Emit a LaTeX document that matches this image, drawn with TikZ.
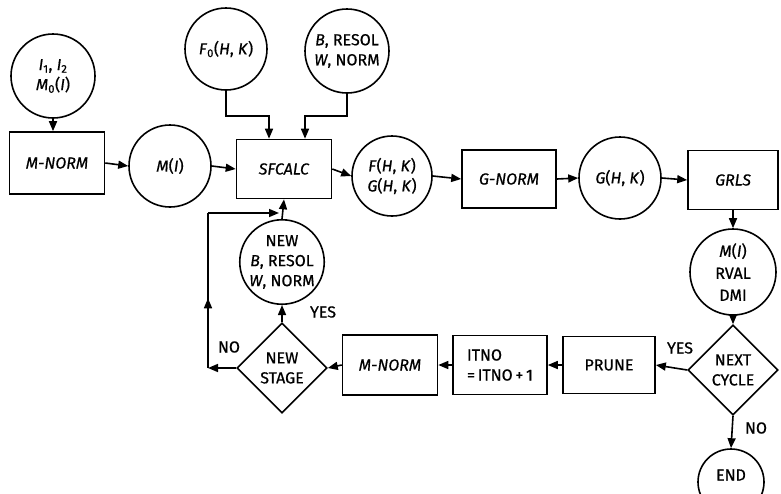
\documentclass[tikz,border=0pt]{standalone}
\usepackage{fontspec}
\setmainfont{Fira Sans}[FakeBold=0.6]
\usetikzlibrary{arrows.meta,shapes.geometric,decorations.markings}
\tikzset{
  base/.style={draw, line width=1.6pt, inner sep=0pt, align=center, font=\fontsize{16}{20}\selectfont},
  cir/.style={base, circle},
  box/.style={base, rectangle},
  dia/.style={base, diamond, minimum width=90pt, minimum height=90pt},
  arr/.style={line width=1.6pt, -{Triangle[length=10pt,width=8pt]}},
  midarr/.style={line width=1.6pt, postaction={decorate}, decoration={markings, mark=at position #1 with {\arrow{Triangle[length=10pt,width=8pt]}}}},
  lbl/.style={font=\fontsize{16}{18}\selectfont, inner sep=0pt}
}
\begin{document}
\begin{tikzpicture}[x=1pt,y=-1pt]
\clip (0,0) rectangle (781,493);
\fill[white] (0,0) rectangle (781,493);
% top row
\node[cir, minimum size=84pt] (i12) at (53,76) {\textit{I}\textsubscript{1}, \textit{I}\textsubscript{2}\\\textit{M}\textsubscript{0}(\textit{I})};
\node[box, minimum width=95pt, minimum height=62pt] (mn1) at (57,163) {\textit{M-NORM}};
\node[cir, minimum size=82pt] (mi) at (170,166) {\textit{M}(\textit{I})};
\node[box, minimum width=95pt, minimum height=59pt] (sf) at (284,169) {\textit{SFCALC}};
\node[cir, minimum size=82pt] (f0) at (226,49) {\textit{F}\textsubscript{0}(\textit{H}, \textit{K})};
\node[cir, minimum size=84pt] (br) at (347,51) {\textit{B}, RESOL\\\textit{W}, NORM};
\node[cir, minimum size=80pt] (fg) at (392,176) {\textit{F}(\textit{H}, \textit{K})\\\textit{G}(\textit{H}, \textit{K})};
\node[box, minimum width=94pt, minimum height=58pt] (gn) at (509,179) {\textit{G-NORM}};
\node[cir, minimum size=82pt] (g) at (620,178) {\textit{G}(\textit{H}, \textit{K})};
\node[box, minimum width=90pt, minimum height=59pt] (grls) at (733,180) {\textit{GRLS}};
% right column
\node[cir, minimum size=86pt, font=\fontsize{16}{22}\selectfont] (mrv) at (733,272) {\textit{M}(\textit{I})\\RVAL\\DMI};
\node[dia] (nc) at (733,370) {NEXT\\CYCLE};
\node[cir, minimum size=66pt] (endc) at (731,482) {\raisebox{14pt}{END}};
% bottom row
\node[box, minimum width=94pt, minimum height=59pt, align=left] (it) at (500,365) {ITNO\\=\,ITNO\,+\,1};
\node[box, minimum width=92pt, minimum height=57pt] (pr) at (609,365) {PRUNE};
\node[box, minimum width=95pt, minimum height=60pt] (mn2) at (390,365) {\textit{M-NORM}};
\node[dia] (ns) at (282,368) {NEW\\STAGE};
\node[cir, minimum size=80pt] (nb) at (282,262) {NEW\\\textit{B}, RESOL\\\textit{W}, NORM};
% connectors
\draw[arr] (i12.south) -- (i12.south |- mn1.north);
\draw[arr] (mn1.east) -- (mi.west);
\draw[arr] (mi.east) -- (sf.west);
\draw[arr] (f0.south) -- ++(0,25) -| ([xshift=-15pt]sf.north);
\draw[arr] (br.south) -- ++(0,22) -| ([xshift=21pt]sf.north);
\draw[arr] (sf.east) -- (fg.west);
\draw[arr] (fg.east) -- (gn.west);
\draw[arr] (gn.east) -- (g.west);
\draw[arr] (g.east) -- (grls.west);
\draw[arr] (grls.south) -- (mrv.north);
\draw[arr] (mrv.south) -- (nc.north);
\draw[arr] (nc.south) -- (endc.north);
\draw[arr] (nc.west) -- (pr.east);
\draw[arr] (pr.west) -- (it.east);
\draw[arr] (it.west) -- (mn2.east);
\draw[arr] (mn2.west) -- (ns.east);
\draw[arr] (ns.north) -- (nb.south);
\draw[arr] (nb.north) -- (sf.south);
\coordinate (c1) at (208,368);
\coordinate (c2) at (208,213);
\coordinate (c3) at (279,213);
\draw[arr] (ns.west) -- (c1);
\draw[midarr=0.45] (c1) -- (c2);
\draw[arr] (c2) -- (c3);
% labels
\node[lbl] (yes1) at (323,312) {YES};
\node[lbl] (no1) at (229,347) {NO};
\node[lbl] (yes2) at (680,348) {YES};
\node[lbl] (no2) at (756,428) {NO};
\end{tikzpicture}
\end{document}
